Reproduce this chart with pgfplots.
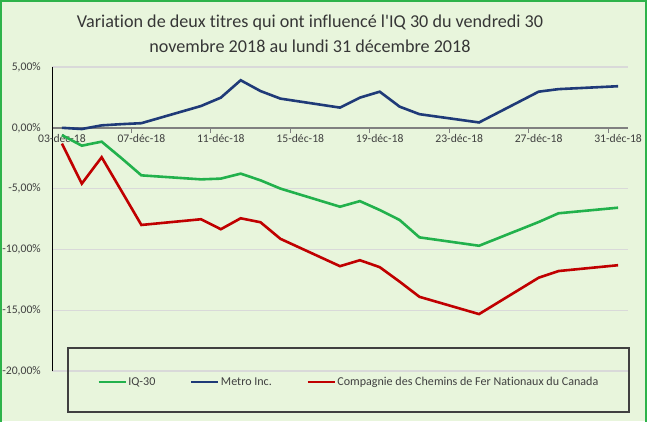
\documentclass[border=0pt]{standalone}
\usepackage{pgfplots}
\pgfplotsset{compat=1.18}
\usepackage{pgfplotstable}
\usepackage{fontspec}
\setmainfont{Carlito}[Ligatures={TeXOff,NoCommon}]
\definecolor{fond}{HTML}{E8F5DC}
\definecolor{cadre}{HTML}{2DB34A}
\definecolor{iqvert}{HTML}{22B14C}
\definecolor{metrobleu}{HTML}{1F3A78}
\definecolor{cnrouge}{HTML}{C00000}
\definecolor{grille}{HTML}{D9D9D9}
\definecolor{texte}{HTML}{404040}

% jour de decembre 2018, variation en %
\pgfplotstableread{
jour iq    metro  cn
3   -0.60  0.00  -1.30
4   -1.47 -0.10  -4.59
5   -1.14  0.20  -2.42
6   -2.50  0.30  -5.20
7   -3.91  0.38  -7.99
10  -4.24  1.79  -7.52
11  -4.18  2.48  -8.34
12  -3.77  3.91  -7.44
13  -4.32  3.02  -7.77
14  -5.00  2.40  -9.13
17  -6.49  1.66 -11.38
18  -6.03  2.48 -10.89
19  -6.76  2.97 -11.46
20  -7.58  1.74 -12.65
21  -9.01  1.12 -13.90
24  -9.70  0.44 -15.32
27  -7.75  2.97 -12.33
28  -7.03  3.18 -11.78
31  -6.57  3.42 -11.30
}\donnees

\begin{document}
\begin{tikzpicture}[x=1bp,y=1bp]
\path[use as bounding box] (0,0) rectangle (650,421);
\fill[fond] (0,0) rectangle (647,421);
\draw[cadre, line width=2bp] (1,-3) -- (1,420) -- (646,420) -- (646,-3);

\node[anchor=base, font=\fontsize{18.2}{21}\selectfont, text=texte!85!black] at (310,393)
  {Variation de deux titres qui ont influencé l'IQ 30 du vendredi 30};
\node[anchor=base, font=\fontsize{18.2}{21}\selectfont, text=texte!85!black] at (310,369)
  {novembre 2018 au lundi 31 décembre 2018};

\begin{axis}[
  at={(52bp,50bp)}, anchor=south west,
  scale only axis, width=576bp, height=304bp,
  xmin=2.5, xmax=31.5, ymin=-20, ymax=5,
  axis x line=middle, axis y line=left,
  x axis line style={-, draw=gray, line width=1.5bp},
  y axis line style={-, draw=black, line width=1bp},
  hide obscured x ticks=false,
  xtick={3,7,...,31},
  xticklabels={03-déc-18,07-déc-18,11-déc-18,15-déc-18,19-déc-18,23-déc-18,27-déc-18,31-déc-18},
  minor xtick={6.5,10.5,14.5,18.5,22.5,26.5,30.5},
  ytick={-20,-15,...,5},
  yticklabels={{-20,00\%},{-15,00\%},{-10,00\%},{-5,00\%},{0,00\%},{5,00\%}},
  major tick length=0pt, minor tick length=5bp,
  tick align=outside,
  minor tick style={gray, line width=1bp},
  ymajorgrids, grid style={grille, line width=1.2bp},
  tick label style={font=\fontsize{11.7}{14}\selectfont, text=texte},
  yticklabel style={inner sep=0pt, xshift=-11bp},
  xticklabel style={yshift=-3bp},
  legend columns=-1,
  legend image code/.code={\draw[#1] (0bp,0bp) -- (27bp,0bp);},
  legend style={draw=none, fill=none,
    at={(axis description cs:0.5148,-0.0362)}, anchor=center,
    font=\fontsize{12.1}{14}\selectfont, text=texte,
    nodes={inner sep=1.5bp},
    /tikz/every even column/.append style={column sep=33bp}},
]
\addplot[iqvert, line width=2.6bp] table[x=jour, y=iq] {\donnees};
\addlegendentry{IQ-30}
\addplot[metrobleu, line width=2.6bp] table[x=jour, y=metro] {\donnees};
\addlegendentry{Metro Inc.}
\addplot[cnrouge, line width=2.6bp] table[x=jour, y=cn] {\donnees};
\addlegendentry{Compagnie des Chemins de Fer Nationaux du Canada}
\end{axis}

\draw[texte, line width=1.2bp] (68,9) rectangle (629,73);
\end{tikzpicture}
\end{document}
